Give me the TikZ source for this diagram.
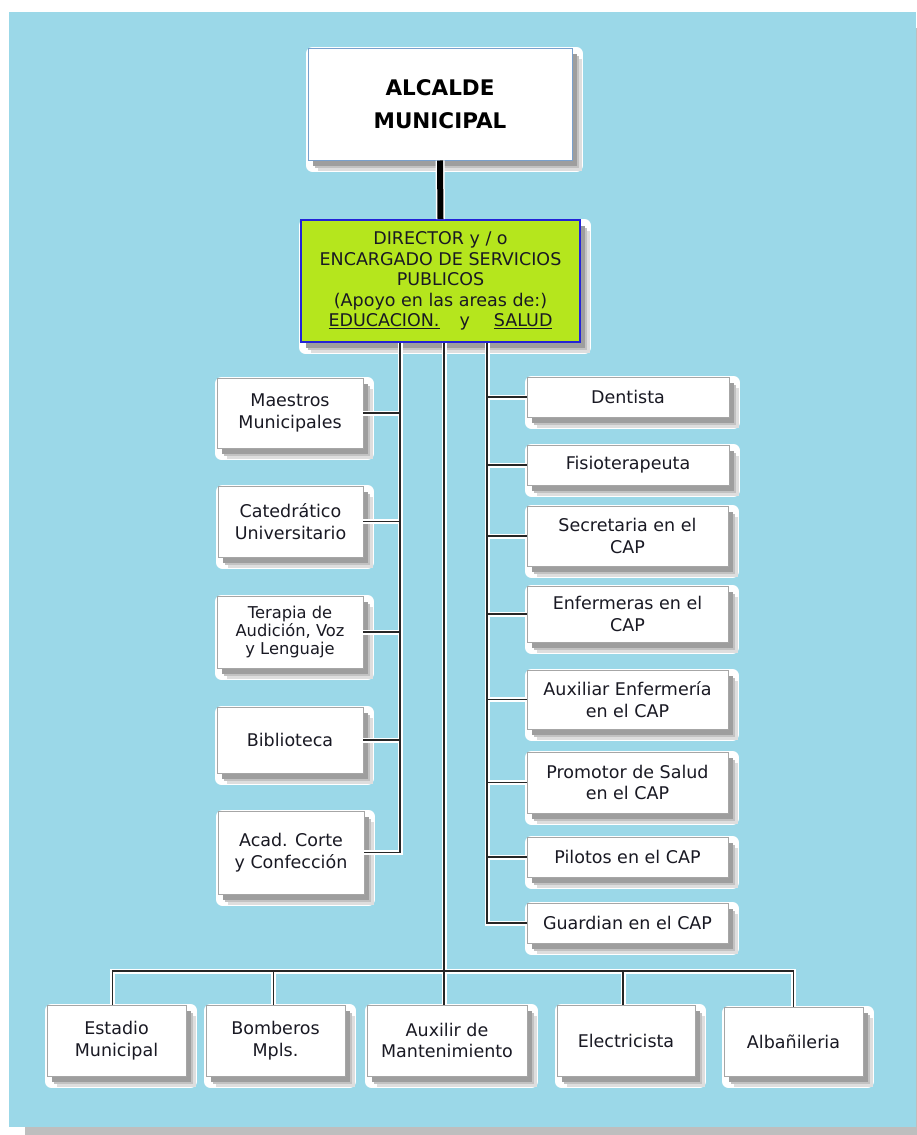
\documentclass[tikz,border=0pt]{standalone}
\usepackage{fontspec}
\setmainfont{DejaVu Sans}
\usetikzlibrary{shadows}
\definecolor{bgblue}{RGB}{155,216,232}
\definecolor{bgshade}{RGB}{190,190,190}
\definecolor{limefill}{RGB}{181,230,29}
\definecolor{dirblue}{RGB}{35,35,215}
\definecolor{topborder}{RGB}{120,160,205}
\definecolor{txt}{RGB}{25,25,35}
\newcommand\drawconnectors[2]{%
  % left (education) branch
  \draw[#1] (dir.south -| lt) |- (acad.east);
  \draw[#1] (maes.east) -- (maes.east -| lt);
  \draw[#1] (cate.east) -- (cate.east -| lt);
  \draw[#1] (tera.east) -- (tera.east -| lt);
  \draw[#1] (bibl.east) -- (bibl.east -| lt);
  % right (health) branch
  \draw[#1] (dir.south -| rt) |- (guar.west);
  \draw[#1] (dent.west -| rt) -- (dent.west);
  \draw[#1] (fisi.west -| rt) -- (fisi.west);
  \draw[#1] (secr.west -| rt) -- (secr.west);
  \draw[#1] (enfe.west -| rt) -- (enfe.west);
  \draw[#1] (auxe.west -| rt) -- (auxe.west);
  \draw[#1] (prom.west -| rt) -- (prom.west);
  \draw[#1] (pilo.west -| rt) -- (pilo.west);
  % centre branch and bottom row
  \draw[#1] (dir.south -| ct) -- (ct |- hb);
  \draw[#1] ([xshift=-4pt]esta.north) -- ([xshift=-4pt]esta.north |- hb) -- (alba.north |- hb) -- (alba.north);
  \draw[#1] ([xshift=-2pt]bomb.north) -- ([xshift=-2pt]bomb.north |- hb);
  \draw[#1] ([xshift=-3pt]auxm.north) -- ([xshift=-3pt]auxm.north |- hb);
  \draw[#1] ([xshift=-3pt]elec.north) -- ([xshift=-3pt]elec.north |- hb);
  % thick line from the mayor
  \draw[#2] (alc.south) -- (dir.north);
}
\begin{document}
\begin{tikzpicture}[x=1pt,y=-1pt,
  shadowed/.style={
    general shadow={shadow xshift=4.5pt, shadow yshift=-5.5pt, fill=white, draw=white, line width=13pt, line join=round},
    general shadow={shadow xshift=9.5pt, shadow yshift=-10.5pt, fill=black!13},
    general shadow={shadow xshift=7pt, shadow yshift=-8pt, fill=black!24},
    general shadow={shadow xshift=4.5pt, shadow yshift=-5.5pt, fill=black!38}},
  unitbox/.style={shadowed, draw=black!35, line width=0.8pt, fill=white, text=txt,
    align=center, inner sep=2pt, font=\fontsize{17.5}{21.5}\selectfont},
  smallunit/.style={unitbox, font=\fontsize{16.3}{18.4}\selectfont},
  topbox/.style={shadowed, draw=topborder, line width=1pt, fill=white, text=black,
    align=center, font=\bfseries\fontsize{21.5}{33}\selectfont},
  dirbox/.style={shadowed, draw=dirblue, line width=1.6pt, fill=limefill, text=txt,
    align=center, font=\fontsize{17.5}{20.6}\selectfont},
  halo/.style={draw=white, line width=5pt},
  wire/.style={draw=black!85, line width=1.6pt},
  thickhalo/.style={draw=white, line width=9pt},
  thickwire/.style={draw=black, line width=6pt}
]
\useasboundingbox (0,0) rectangle (917,1135);
\fill[bgshade] (25,28) rectangle (917,1135);
\fill[bgblue] (9,12) rectangle (916,1127);

\coordinate (lt) at (400,0);
\coordinate (rt) at (487,0);
\coordinate (ct) at (444,0);
\coordinate (hb) at (0,971);

\node[topbox, minimum width=264pt, minimum height=112pt] (alc) at (440,104) {ALCALDE\\MUNICIPAL};
\node[dirbox, minimum width=279pt, minimum height=122pt] (dir) at (440.5,281)
  {DIRECTOR y / o\\ENCARGADO DE SERVICIOS\\PUBLICOS\\(Apoyo en las areas de:)\\\underline{EDUCACION.}\hspace{20pt}y\hspace{24pt}\underline{SALUD}};

\node[unitbox, minimum width=146pt, minimum height=70pt] (maes) at (290,413) {Maestros\\Municipales};
\node[unitbox, minimum width=145pt, minimum height=71pt] (cate) at (290.5,521.5) {Catedrático\\Universitario};
\node[smallunit, minimum width=146pt, minimum height=72pt] (tera) at (290,632) {Terapia de\\Audición, Voz\\y Lenguaje};
\node[unitbox, minimum width=146pt, minimum height=66pt] (bibl) at (290,740) {Biblioteca};
\node[unitbox, minimum width=146pt, minimum height=83pt] (acad) at (291,852.5) {Acad. Corte\\y Confección};

\node[unitbox, minimum width=202pt, minimum height=40pt] (dent) at (628,397) {Dentista};
\node[unitbox, minimum width=202pt, minimum height=40pt] (fisi) at (628,465) {Fisioterapeuta};
\node[unitbox, minimum width=201pt, minimum height=60pt] (secr) at (627.5,536) {Secretaria en el\\CAP};
\node[unitbox, minimum width=201pt, minimum height=56pt] (enfe) at (627.5,614) {Enfermeras en el\\CAP};
\node[unitbox, minimum width=201pt, minimum height=59pt] (auxe) at (627.5,699.5) {Auxiliar Enfermería\\en el CAP};
\node[unitbox, minimum width=201pt, minimum height=61pt] (prom) at (627.5,782.5) {Promotor de Salud\\en el CAP};
\node[unitbox, minimum width=201pt, minimum height=40pt] (pilo) at (627.5,857) {Pilotos en el CAP};
\node[unitbox, minimum width=201pt, minimum height=40pt] (guar) at (627.5,923) {Guardian en el CAP};

\node[unitbox, minimum width=139pt, minimum height=71pt] (esta) at (116.5,1040.5) {Estadio\\Municipal};
\node[unitbox, minimum width=139pt, minimum height=71pt] (bomb) at (275.5,1040.5) {Bomberos\\Mpls.};
\node[unitbox, minimum width=160pt, minimum height=71pt] (auxm) at (447,1040.5) {Auxilir de\\Mantenimiento};
\node[unitbox, minimum width=138pt, minimum height=71pt] (elec) at (626,1040.5) {Electricista};
\node[unitbox, minimum width=139pt, minimum height=69pt] (alba) at (793.5,1041.5) {Albañileria};

\drawconnectors{halo}{thickhalo}
\drawconnectors{wire}{thickwire}
\end{tikzpicture}
\end{document}
